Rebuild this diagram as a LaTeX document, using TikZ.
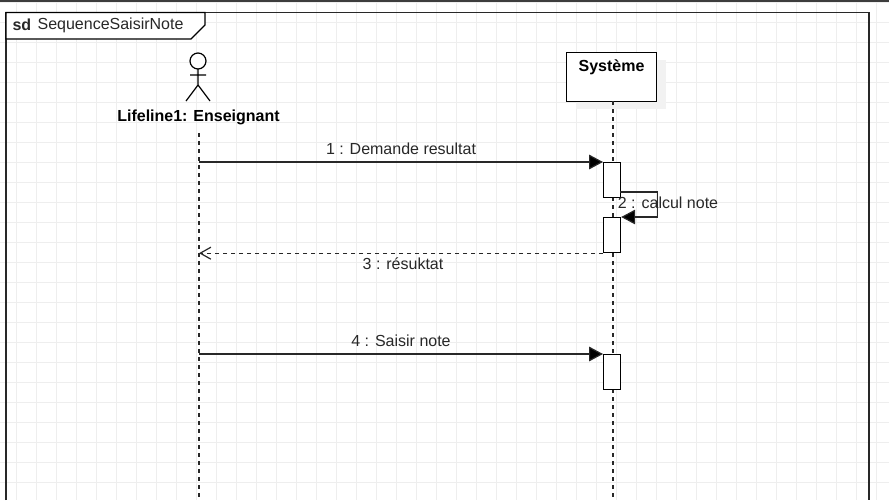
\documentclass[tikz,border=0pt]{standalone}
\usepackage{fontspec}
\setmainfont{Liberation Sans}
\usetikzlibrary{arrows.meta}
\definecolor{mygrid}{RGB}{238, 238, 238}
\definecolor{myline}{RGB}{40, 40, 40}
\definecolor{myshadow}{RGB}{242, 242, 242}
\tikzset{every picture/.style={line width=0.9pt}}
\tikzset{
  activation/.style={draw=black, fill=white, minimum width=12.75pt, minimum height=26.25pt, inner sep=0pt, anchor=north west},
  lifeline/.style={draw=myline, dashed, dash pattern=on 3pt off 3pt},
  message/.style={draw=myline, -{Triangle[length=10.5pt,width=11pt,fill=black]}},
  msglabel/.style={text=myline, font=\fontsize{12pt}{14pt}\selectfont, inner sep=0pt},
}

\begin{document}
\begin{tikzpicture}[x=0.75pt,y=0.75pt,yscale=-1,xscale=1]
\useasboundingbox (0,0) rectangle (889,500);
\fill [white] (0,0) rectangle (889,500);
%Grid
\foreach \gx in {16.7,36.7,...,880} {\draw [color=mygrid, line width=0.75pt] (\gx,0) -- (\gx,500);}
\foreach \gy in {2.7,22.7,...,500} {\draw [color=mygrid, line width=0.75pt] (0,\gy) -- (889,\gy);}
%Top bar
\fill [color=myline!90!white] (0,0) rectangle (889,2);
%Frame
\draw [color=myline, line width=1.2pt] (6,500) -- (6,12.5) -- (869,12.5) -- (869,500);
\draw [color=black, fill=white] (6,12.5) -- (205,12.5) -- (205,25) -- (191,39) -- (6,39) -- cycle;
\node [msglabel, anchor=west, font=\fontsize{12pt}{14pt}\selectfont\bfseries] (sdtag) at (12,25) {sd};
\node [msglabel, anchor=west] (sdname) at (37,25) {SequenceSaisirNote};
%Actor
\draw [color=black, fill=white] (198,61) circle [radius=8];
\draw [color=black] (198,69) -- (198,85) (190,75) -- (206,75) (198,85) -- (186,101) (198,85) -- (210,101);
\node [font=\fontsize{12pt}{14pt}\selectfont\bfseries, text=black, inner sep=0pt] (actorname) at (198.5,117.5) {Lifeline1: Enseignant};
%Systeme box
\fill [color=myshadow] (576,60) rectangle (666,109);
\node [draw=black, fill=white, minimum width=68pt, minimum height=36.75pt, inner sep=0pt, anchor=north west] (systeme) at (565.5,52) {};
\node [font=\fontsize{12pt}{14pt}\selectfont\bfseries, text=black, inner sep=0pt] (systemename) at (611.5,67) {Système};
%Lifelines
\coordinate (actorend) at (199,500);
\coordinate (actortop) at (199,133);
\coordinate (systemetop) at (613,101);
\coordinate (systemeend) at (613,500);
\draw [lifeline] (actortop) -- (actorend);
\draw [lifeline] (systemetop) -- (systemeend);
%Activations
\node [activation] (actone) at (603,162) {};
\node [activation] (acttwo) at (603,217) {};
\node [activation] (actthree) at (603,354) {};
%Messages
\coordinate (fromone) at (199,162);
\coordinate (fromfour) at (199,354);
\coordinate (selfa) at (620,192);
\coordinate (selfb) at (657.5,192);
\coordinate (selfc) at (657.5,217);
\draw [message] (fromone) -- (fromone -| actone.north west);
\draw [message] (selfa) -- (selfb) -- (selfc) -- (acttwo.north east);
\draw [draw=myline, dashed, dash pattern=on 3pt off 3pt, -{Straight Barb[length=8pt,width=9pt]}] (acttwo.south west) -- (actortop |- acttwo.south west);
\draw [message] (fromfour) -- (fromfour -| actthree.north west);
%Labels
\node [msglabel] (msgone) at (401,148.5) {1 : Demande resultat};
\node [msglabel] (msgtwo) at (668,202.5) {2 : calcul note};
\node [msglabel] (msgthree) at (403,263.5) {3 : résuktat};
\node [msglabel] (msgfour) at (401,340.5) {4 : Saisir note};
\end{tikzpicture}
\end{document}
